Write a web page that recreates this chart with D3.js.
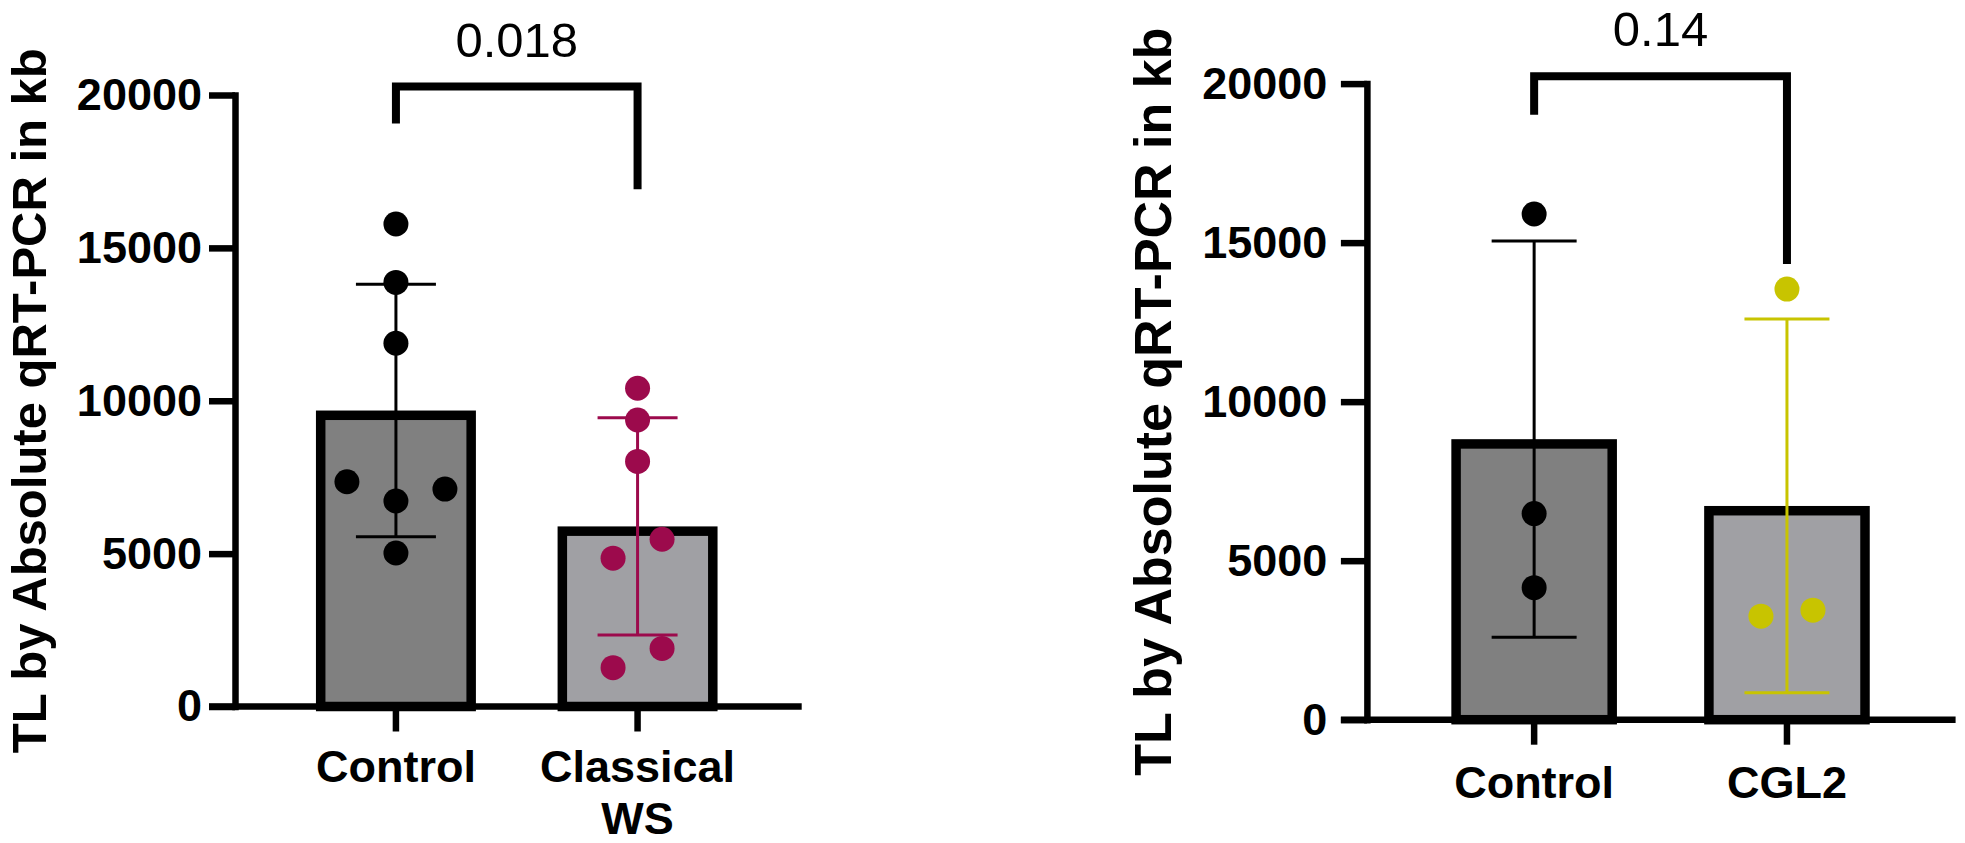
<!DOCTYPE html>
<html>
<head>
<meta charset="utf-8">
<script src="https://cdn.jsdelivr.net/npm/d3@7"></script>
<style>
  html, body { margin: 0; padding: 0; background: #fff; }
  svg { display: block; }
  text { font-family: "Liberation Sans", Arial, Helvetica, sans-serif; }
</style>
</head>
<body>
<svg id="chart" width="1965" height="843"></svg>
<script>
// ---------------- data ----------------
const yTicks = [0, 5000, 10000, 15000, 20000];
const yTitle = "TL by Absolute qRT-PCR in kb";

const leftCategories = ["Control", "Classical WS"];
const leftMeans = [9680, 5890];
const leftSDs = [4127, 3550];
const leftControlPoints = [15780, 13870, 11880, 7350, 7110, 6720, 5020];
const leftWSPoints = [10410, 9370, 8015, 5470, 4850, 1900, 1270];
const leftPValue = "0.018";

const rightCategories = ["Control", "CGL2"];
const rightMeans = [8820, 6720];
const rightSDs = [6230, 5875];
const rightControlPoints = [15900, 6480, 4150];
const rightCGL2Points = [13540, 3255, 3445];
const rightPValue = "0.14";

// ---------------- styles / layout ----------------
const colors = {
  black: "#000000",
  magenta: "#9c0a4c",
  yellow: "#c8c400",
  barDark: "#808080",
  barLight: "#a0a0a4"
};

const svg = d3.select("#chart");
svg.append("rect").attr("width", 1965).attr("height", 843).attr("fill", "#fff");

function drawPanel(cfg) {
  const g = svg.append("g");
  const y = d3.scaleLinear().domain([0, 20000]).range([cfg.y0, cfg.y1]);
  const x = d3.scaleBand()
    .domain(cfg.categories)
    .range([cfg.axisX, cfg.bandEnd])
    .paddingInner(cfg.padInner)
    .paddingOuter(cfg.padOuter);
  const bw = x.bandwidth();
  const sw = 9.5;

  // bars
  cfg.categories.forEach((c, i) => {
    const top = y(cfg.means[i]);
    g.append("rect")
      .attr("x", x(c) + sw / 2)
      .attr("y", top + sw / 2)
      .attr("width", bw - sw)
      .attr("height", y(0) - top - sw / 2)
      .attr("fill", cfg.fills[i])
      .attr("stroke", "#000")
      .attr("stroke-width", sw);
  });

  // error bars (mean ± SD)
  cfg.categories.forEach((c, i) => {
    const cx = x(c) + bw / 2;
    const hi = y(cfg.means[i] + cfg.sds[i]);
    const lo = y(Math.max(0, cfg.means[i] - cfg.sds[i]));
    const col = cfg.pointColors[i];
    g.append("line").attr("x1", cx).attr("x2", cx).attr("y1", hi).attr("y2", lo)
      .attr("stroke", col).attr("stroke-width", 3);
    [hi, lo].forEach(yy => {
      g.append("line").attr("x1", cx - cfg.capHalf).attr("x2", cx + cfg.capHalf)
        .attr("y1", yy).attr("y2", yy)
        .attr("stroke", col).attr("stroke-width", 3);
    });
  });

  // points
  cfg.categories.forEach((c, i) => {
    const cx = x(c) + bw / 2;
    cfg.points[i].forEach((v, j) => {
      g.append("circle")
        .attr("cx", cx + cfg.jitter[i][j] * cfg.jitterStep[i])
        .attr("cy", y(v))
        .attr("r", 12.5)
        .attr("fill", cfg.pointColors[i]);
    });
  });

  // y axis
  const yAxis = d3.axisLeft(y).tickValues(yTicks).tickSize(26).tickSizeOuter(0)
    .tickPadding(cfg.yTickPad).tickFormat(d3.format("d"));
  const ya = g.append("g").attr("transform", `translate(${cfg.axisX},0)`).call(yAxis);
  ya.select(".domain").attr("stroke", "#000").attr("stroke-width", 6.5).attr("stroke-linecap", "square");
  ya.selectAll(".tick line").attr("stroke", "#000").attr("stroke-width", 6.5);
  ya.selectAll(".tick text")
    .attr("fill", "#000")
    .style("font-size", "45px")
    .style("font-weight", "bold")
    .style("font-family", '"Liberation Sans", Arial, sans-serif');

  // x axis
  const xAxis = d3.axisBottom(x).tickSize(25).tickSizeOuter(0).tickFormat("");
  const xa = g.append("g").attr("transform", `translate(0,${cfg.y0})`).call(xAxis);
  xa.select(".domain").remove();
  xa.selectAll(".tick line").attr("stroke", "#000").attr("stroke-width", 6.5);
  g.append("line")
    .attr("x1", cfg.axisX - 26).attr("x2", cfg.xEnd)
    .attr("y1", cfg.y0).attr("y2", cfg.y0)
    .attr("stroke", "#000").attr("stroke-width", 6.5);

  // x labels (through band scale)
  cfg.categories.forEach(c => {
    const words = c.split(" ");
    const t = g.append("text")
      .attr("x", x(c) + bw / 2)
      .attr("y", cfg.y0 + cfg.labelBaseline)
      .attr("text-anchor", "middle")
      .style("font-size", "45px")
      .style("font-weight", "bold")
      .attr("fill", "#000");
    words.forEach((w, k) => {
      t.append("tspan").attr("x", x(c) + bw / 2).attr("dy", k === 0 ? 0 : 52).text(w);
    });
  });

  // y title
  const yc = (y(0) + y(20000)) / 2;
  g.append("text")
    .attr("transform", `translate(${cfg.titleBaseline},${yc}) rotate(-90)`)
    .attr("text-anchor", "middle")
    .style("font-size", cfg.titleSize + "px")
    .style("font-weight", "bold")
    .attr("fill", "#000")
    .text(yTitle);

  // significance bracket
  const xL = x(cfg.categories[0]) + bw / 2;
  const xR = x(cfg.categories[1]) + bw / 2;
  const yTop = y(cfg.bracket[0]);
  g.append("path")
    .attr("d", `M${xL},${y(cfg.bracket[1])} V${yTop} H${xR} V${y(cfg.bracket[2])}`)
    .attr("fill", "none").attr("stroke", "#000").attr("stroke-width", 8)
    .attr("stroke-linejoin", "miter");
  g.append("text")
    .attr("x", (xL + xR) / 2)
    .attr("y", yTop - 30)
    .attr("text-anchor", "middle")
    .style("font-size", "49px")
    .attr("fill", "#000")
    .text(cfg.pValue);
}

drawPanel({
  categories: leftCategories,
  means: leftMeans,
  sds: leftSDs,
  points: [leftControlPoints, leftWSPoints],
  jitter: [[0, 0, 0, -1, 1, 0, 0], [0, 0, 0, 1, -1, 1, -1]],
  jitterStep: [49, 24.5],
  fills: [colors.barDark, colors.barLight],
  pointColors: [colors.black, colors.magenta],
  y0: 706.5, y1: 95,
  axisX: 235, bandEnd: 798.5, xEnd: 801.7,
  padInner: 0.338, padOuter: 0.335,
  capHalf: 40,
  yTickPad: 7,
  labelBaseline: 75,
  titleBaseline: 45.5, titleSize: 49,
  bracket: [20275, 19070, 16920],
  pValue: leftPValue
});

drawPanel({
  categories: rightCategories,
  means: rightMeans,
  sds: rightSDs,
  points: [rightControlPoints, rightCGL2Points],
  jitter: [[0, 0, 0], [0, -1, 1]],
  jitterStep: [26, 26],
  fills: [colors.barDark, colors.barLight],
  pointColors: [colors.black, colors.yellow],
  y0: 719.7, y1: 83.6,
  axisX: 1366.9, bandEnd: 1954.2, xEnd: 1955.6,
  padInner: 0.345, padOuter: 0.334,
  capHalf: 42.5,
  yTickPad: 13.5,
  labelBaseline: 78,
  titleBaseline: 1171, titleSize: 52,
  bracket: [20233, 19022, 14330],
  pValue: rightPValue
});
</script>
</body>
</html>
